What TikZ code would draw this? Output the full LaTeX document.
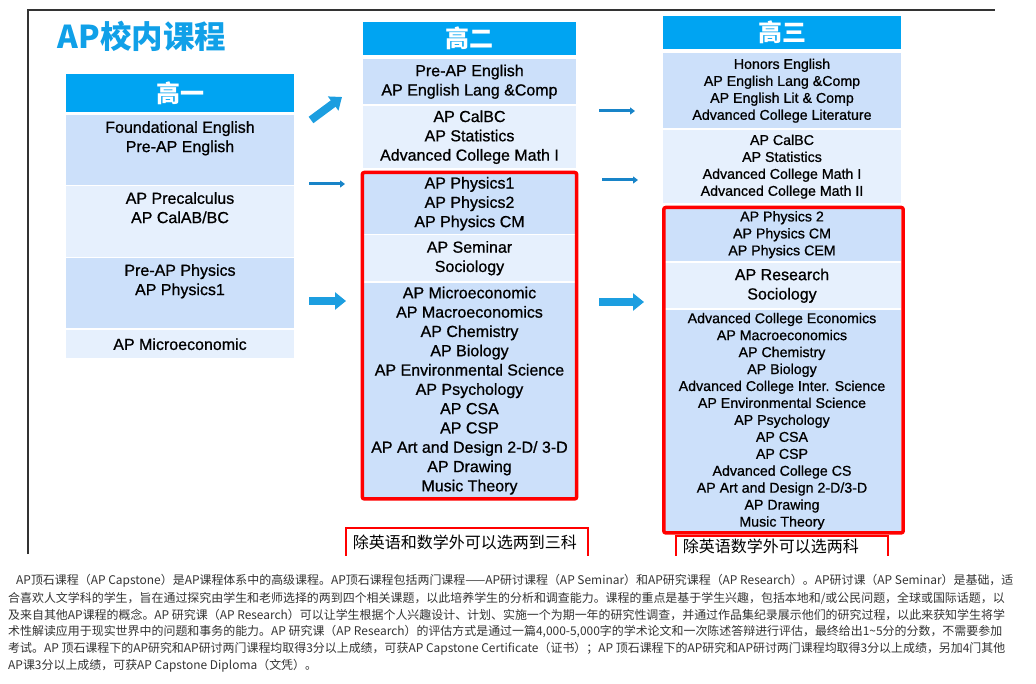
\documentclass[tikz,border=0pt]{standalone}
\usepackage{fontspec}
\setmainfont{Liberation Sans}
\newfontfamily\crs{Liberation Sans}[FakeBold=0.8]
\newfontfamily\cjk{Noto Sans CJK SC}
\usetikzlibrary{positioning,fit,arrows.meta}

\definecolor{hdrblue}{RGB}{0,164,242}
\definecolor{dkblue}{RGB}{204,224,250}
\definecolor{ltblue}{RGB}{230,240,253}
\definecolor{ttlblue}{RGB}{16,160,232}
\definecolor{thinblue}{RGB}{24,132,200}
\definecolor{fatblue}{RGB}{28,158,224}
\definecolor{txtgray}{RGB}{51,51,51}

\tikzset{
  blk/.style={align=center, inner sep=0pt, anchor=north, text=black},
  dk/.style={blk, fill=dkblue},
  lt/.style={blk, fill=ltblue},
  hdr/.style={fill=hdrblue, text=white, inner sep=0pt, anchor=north,
    font=\cjk\bfseries\fontsize{24}{28}\selectfont},
  fbig/.style={font=\crs\fontsize{16}{19.3}\selectfont},
  fsmall/.style={font=\crs\fontsize{14.2}{16.95}\selectfont},
  redbox/.style={draw=red, line width=3.5pt, rounded corners=2pt, inner sep=0.5pt},
  capbox/.style={draw=red, line width=1.6pt, anchor=north west, inner ysep=0pt,
    inner xsep=7pt, align=left, font=\cjk\fontsize{16}{20}\selectfont},
  thin/.style={draw=thinblue, line width=3pt, -{Triangle[width=7pt,length=5pt]}},
  fat/.style={draw=fatblue, line width=8pt, -{Triangle[width=17pt,length=11pt]}},
  para/.style={anchor=west, inner sep=0pt, text=txtgray,
    font=\cjk\fontsize{11.95}{17}\selectfont}
}

\begin{document}
\begin{tikzpicture}[x=1pt, y=-1pt]
\useasboundingbox (0,0) rectangle (1036,684);

% frame
\draw[line width=1.3pt, color=txtgray] (28,554) -- (28,10) -- (995,10);

\node[font=\cjk\bfseries\fontsize{31.5}{36}\selectfont, text=ttlblue] (ttl) at (142,36) {AP校内课程};

% grade 1
\node[hdr, minimum width=228pt, minimum height=38pt] (h1) at (180,74) {高一};
\node[dk, minimum width=228pt, minimum height=70pt] (c1a) at (180,115) {};
\node[lt, minimum width=228pt, minimum height=71pt] (c1b) at (180,186) {};
\node[dk, minimum width=228pt, minimum height=70pt] (c1c) at (180,258) {};
\node[lt, fbig, minimum width=228pt, minimum height=28pt] (c1d) at (180,330) {AP Microeconomic};
\node[blk, fbig, below=6pt of c1a.north] (t1a) {Foundational English\\Pre-AP English};
\node[blk, fbig, below=6pt of c1b.north] (t1b) {AP Precalculus\\AP CalAB/BC};
\node[blk, fbig, below=6pt of c1c.north] (t1c) {Pre-AP Physics\\AP Physics1};

% grade 2
\node[hdr, minimum width=213pt, minimum height=33pt] (h2) at (469.5,22) {高二};
\node[dk, fbig, minimum width=213pt, minimum height=45pt] (c2a) at (469.5,59)
  {Pre-AP English\\AP English Lang \&Comp};
\node[lt, fbig, minimum width=213pt, minimum height=62pt] (c2b) at (469.5,106)
  {AP CalBC\\AP Statistics\\Advanced College Math I};
\node[dk, fbig, minimum width=213pt, minimum height=61pt] (c2c) at (469.5,173)
  {AP Physics1\\AP Physics2\\AP Physics CM};
\node[lt, fbig, minimum width=213pt, minimum height=46pt] (c2d) at (469.5,235)
  {AP Seminar\\Sociology};
\node[dk, fbig, minimum width=213pt, minimum height=215pt] (c2e) at (469.5,283)
  {AP Microeconomic\\AP Macroeconomics\\AP Chemistry\\AP Biology\\AP Environmental Science\\
   AP Psychology\\AP CSA\\AP CSP\\AP Art and Design 2-D/ 3-D\\AP Drawing\\Music Theory};
\node[redbox, fit=(c2c)(c2e)] (r2) {};

% grade 3
\node[hdr, minimum width=238pt, minimum height=33pt] (h3) at (782,16) {高三};
\node[dk, fsmall, minimum width=238pt, minimum height=75pt] (c3a) at (782,53)
  {Honors English\\AP English Lang \&Comp\\AP English Lit \& Comp\\Advanced College Literature};
\node[lt, fsmall, minimum width=238pt, minimum height=73pt] (c3b) at (782,130)
  {AP CalBC\\AP Statistics\\Advanced College Math I\\Advanced College Math II};
\node[dk, fsmall, minimum width=238pt, minimum height=53pt] (c3c) at (782,208)
  {AP Physics 2\\AP Physics CM\\AP Physics CEM};
\node[lt, fbig, minimum width=238pt, minimum height=45pt] (c3d) at (782,263)
  {AP Research\\Sociology};
\node[dk, fsmall, minimum width=238pt, minimum height=222pt] (c3e) at (782,310)
  {Advanced College Economics\\AP Macroeconomics\\AP Chemistry\\AP Biology\\
   Advanced College Inter. Science\\AP Environmental Science\\AP Psychology\\AP CSA\\AP CSP\\
   Advanced College CS\\AP Art and Design 2-D/3-D\\AP Drawing\\Music Theory};
\node[redbox, fit=(c3c)(c3e), xshift=1.5pt] (r3) {};

% notes under the red boxes
\begin{scope}
\clip (0,0) rectangle (1036,555);
\node[capbox, text width=228pt, minimum height=30pt] (n2) at (345,527) {除英语和数学外可以选两到三科};
\node[capbox, text width=198pt, minimum height=22pt] (n3) at (675,535) {除英语数学外可以选两科};
\end{scope}

% arrows
\coordinate (a1s) at (311,120); \coordinate (a1e) at (342,97);
\coordinate (a2s) at (309,184); \coordinate (a2e) at (345,184);
\coordinate (a3s) at (309,301); \coordinate (a3e) at (346,301);
\coordinate (b1s) at (599,111); \coordinate (b1e) at (635,111);
\coordinate (b2s) at (602,180); \coordinate (b2e) at (638,180);
\coordinate (b3s) at (599,302); \coordinate (b3e) at (644,302);
\draw[fat] (a1s) -- (a1e);
\draw[thin] (a2s) -- (a2e);
\draw[fat] (a3s) -- (a3e);
\draw[thin] (b1s) -- (b1e);
\draw[thin] (b2s) -- (b2e);
\draw[fat] (b3s) -- (b3e);

% text below
\node[para] (p1) at (16,581) {AP顶石课程（AP Capstone）是AP课程体系中的高级课程。AP顶石课程包括两门课程——AP研讨课程（AP Seminar）和AP研究课程（AP Research）。AP研讨课（AP Seminar）是基础，适};
\node[para] (p2) at (8,598) {合喜欢人文学科的学生，旨在通过探究由学生和老师选择的两到四个相关课题，以此培养学生的分析和调查能力。课程的重点是基于学生兴趣，包括本地和/或公民问题，全球或国际话题，以};
\node[para] (p3) at (8,615) {及来自其他AP课程的概念。AP 研究课（AP Research）可以让学生根据个人兴趣设计、计划、实施一个为期一年的研究性调查，并通过作品集纪录展示他们的研究过程，以此来获知学生将学};
\node[para] (p4) at (8,632) {术性解读应用于现实世界中的问题和事务的能力。AP 研究课（AP Research）的评估方式是通过一篇4,000-5,000字的学术论文和一次陈述答辩进行评估，最终给出1\textasciitilde5分的分数，不需要参加};
\node[para] (p5) at (8,649) {考试。AP 顶石课程下的AP研究和AP研讨两门课程均取得3分以上成绩，可获AP Capstone Certificate（证书）；AP 顶石课程下的AP研究和AP研讨两门课程均取得3分以上成绩，另加4门其他};
\node[para] (p6) at (8,666) {AP课3分以上成绩，可获AP Capstone Diploma（文凭）。};
\end{tikzpicture}
\end{document}
